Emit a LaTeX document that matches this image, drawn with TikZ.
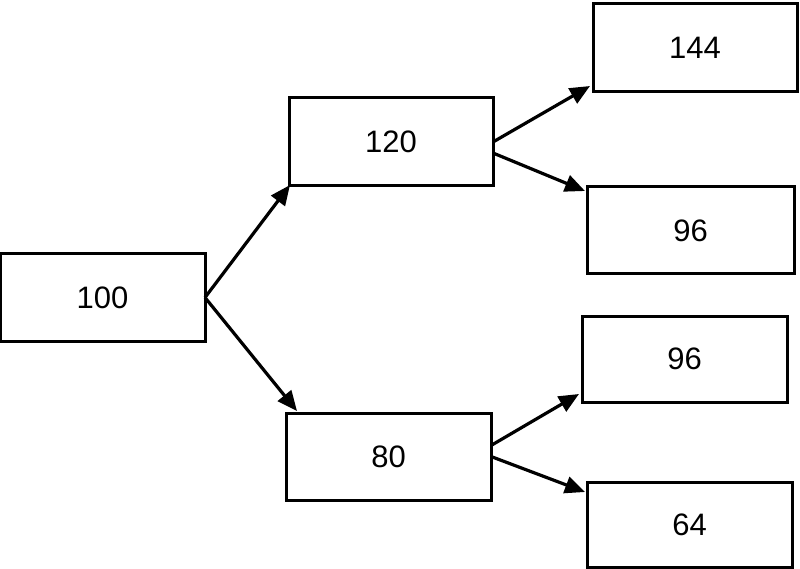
\documentclass[tikz,border=0pt]{standalone}
\usepackage{fontspec}
\setmainfont{Liberation Sans}
\usetikzlibrary{arrows.meta}
\begin{document}
\begin{tikzpicture}[x=1pt,y=-1pt,
  box/.style={draw=black,line width=3pt,outer sep=0pt,inner sep=0pt,font=\fontsize{31}{36}\selectfont,text=black},
  arr/.style={line width=3.2pt,-{Triangle[length=20pt,width=17pt]}}]
\useasboundingbox (0,0) rectangle (800,569);
\node[box,minimum width=205pt,minimum height=87pt] (n100) at (102.5,297.5) {100};
\node[box,minimum width=204pt,minimum height=88pt] (n120) at (391,142) {120};
\node[box,minimum width=205pt,minimum height=87pt] (n80) at (388.5,456.5) {80};
\node[box,minimum width=204pt,minimum height=88pt] (n144) at (695,48) {144};
\node[box,minimum width=207pt,minimum height=87pt] (n96a) at (690.5,230.5) {96};
\node[box,minimum width=205pt,minimum height=86pt] (n96b) at (684.5,359) {96};
\node[box,minimum width=205pt,minimum height=85pt] (n64) at (689.5,524.5) {64};
\draw[arr] (n100.east) -- ([xshift=1pt,yshift=1pt]n120.south west);
\draw[arr] (n100.east) -- ([xshift=11pt,yshift=2pt]n80.north west);
\draw[arr] (n120.east) -- ([xshift=-3pt,yshift=6pt]n144.south west);
\draw[arr] ([yshift=-11pt]n120.east) -- ([xshift=-2pt,yshift=-4pt]n96a.north west);
\draw[arr] ([yshift=11pt]n80.east) -- ([xshift=-3pt,yshift=8pt]n96b.south west);
\draw[arr] (n80.east) -- ([xshift=-2pt,yshift=-10pt]n64.north west);
\end{tikzpicture}
\end{document}
